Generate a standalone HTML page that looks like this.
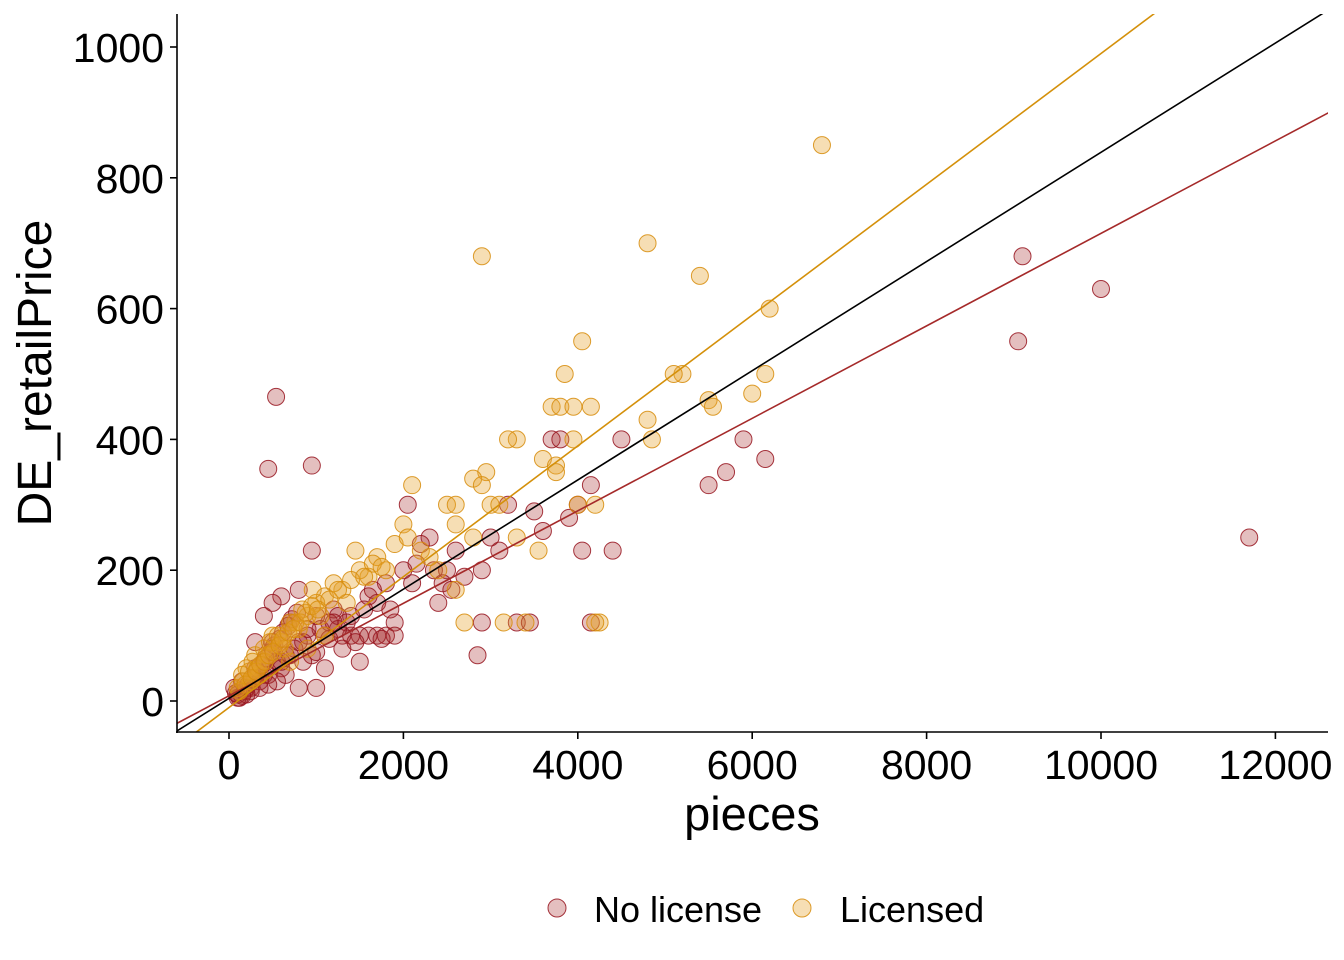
<!DOCTYPE html>
<html><head><meta charset="utf-8"><style>
body{margin:0;background:#fff}
svg{display:block;font-family:"Liberation Sans",Arial,sans-serif}
</style></head><body>
<svg id="chart" width="1344" height="960">
<g id="marks"></g>
<g id="axes"></g>
<text x="752" y="830" font-size="47" text-anchor="middle">pieces</text>
<text transform="translate(51,373) rotate(-90)" font-size="48" text-anchor="middle">DE_retailPrice</text>
<g>
<circle cx="557" cy="908" r="9" fill="rgba(165,42,42,0.3)" stroke="rgba(150,20,30,0.85)"/>
<text x="594" y="922" font-size="36">No license</text>
<circle cx="802" cy="908" r="9" fill="rgba(230,160,40,0.35)" stroke="rgba(215,140,10,0.85)"/>
<text x="840" y="922" font-size="36">Licensed</text>
</g>
</svg>
<script>
const redX=[540,450,950,950,2050,3700,3800,4150,4000,3900,3600,3500,4050,4400,4500,5900,5700,5500,6150,9050,9100,10000,11700,2900,2850,3300,3450,4150,3100,3200,2900,2700,2500,2300,2200,1800,1700,1600,1500,1400,1300,1500,1300,1000,800,1100,1200,1000,800,600,400,300,500,700,900,600,400,200,100,150,300,500,1700,1900,2100,2400,2600,3000,2000,1600,1400,1800,250,350,450,550,650,750,850,1050,1150,1250,120,180,220,280,320,380,420,480,520,580,620,680,720,780,1900,1750,1550,1350,1450,1250,1150,950,850,650,550,450,350,250,200,150,100,80,60,300,400,500,600,700,800,900,1000,1100,1200,1650,1850,2150,2350,2450,2550];
const redY=[465,355,360,230,300,400,400,330,300,280,260,290,230,230,400,400,350,330,370,550,680,630,250,120,70,120,120,120,230,300,200,190,200,250,240,100,100,100,100,100,100,60,80,20,20,50,140,130,170,160,130,90,150,120,100,50,40,20,10,30,50,90,150,120,180,150,230,250,200,160,130,180,20,30,40,60,70,80,90,110,120,130,5,15,25,35,45,55,65,75,85,95,105,115,125,135,100,95,140,120,90,110,95,70,60,40,30,25,20,15,10,8,5,12,20,35,60,80,60,70,90,110,75,100,120,170,140,210,200,180,170];
const orgX=[6800,4800,5400,2900,6200,4050,5200,5100,3850,6150,3700,3800,3950,4150,5500,5550,6000,4800,4850,3950,3300,3200,3600,3750,3750,2950,2800,2900,2100,3000,3100,2500,2600,4000,4200,2000,2800,3300,3550,1450,1700,1900,2600,2700,3150,3400,4250,4200,2600,2400,1600,1300,1100,900,700,500,300,200,100,400,600,800,1000,1200,1500,1800,2200,350,250,150,700,900,1100,160,230,270,330,430,470,560,640,760,840,960,1050,1350,1650,2300,120,190,260,310,360,410,460,510,580,620,680,740,820,880,950,1020,1150,1250,1400,1550,1750,2050];
const orgY=[850,700,650,680,600,550,500,500,500,500,450,450,450,450,460,450,470,430,400,400,400,400,370,360,350,350,340,330,330,300,300,300,300,300,300,270,250,250,230,230,220,240,270,120,120,120,120,120,170,200,190,170,160,130,120,100,70,50,20,80,90,110,150,180,200,200,230,40,30,40,60,80,100,30,45,60,50,70,90,100,80,120,140,170,130,150,210,220,15,25,35,45,55,60,70,75,85,95,105,110,120,135,145,140,155,170,185,190,205,250];
const xTicks=[0,2000,4000,6000,8000,10000,12000];
const yTicks=[0,200,400,600,800,1000];
const fitNone=[8,0.0707], fitLic=[-10,0.1], fitAll=[4,0.0835];
const X=v=>229+v*0.0872, Y=v=>701-v*0.654;
const NS='http://www.w3.org/2000/svg';
const marks=document.getElementById('marks'), axes=document.getElementById('axes');
function mk(tag,attrs,parent){const e=document.createElementNS(NS,tag);for(const k in attrs)e.setAttribute(k,attrs[k]);parent.appendChild(e);return e;}
const clip=mk('clipPath',{id:'pc'},marks);mk('rect',{x:177,y:14,width:1151,height:718},clip);
const pg=mk('g',{'clip-path':'url(#pc)'},marks);
for(let i=0;i<redX.length;i++){const c=mk('circle',{cx:X(redX[i]),cy:Y(redY[i]),r:8.5,fill:'rgba(165,42,42,0.3)',stroke:'rgba(150,20,30,0.85)','stroke-width':1},pg);

}
for(let i=0;i<orgX.length;i++){const c=mk('circle',{cx:X(orgX[i]),cy:Y(orgY[i]),r:8.5,fill:'rgba(230,160,40,0.35)',stroke:'rgba(215,140,10,0.85)','stroke-width':1},pg);

}
function fit(f,col,name){const x0=-700,x1=13000;const l=mk('line',{x1:X(x0),y1:Y(f[0]+f[1]*x0),x2:X(x1),y2:Y(f[0]+f[1]*x1),stroke:col,'stroke-width':1.6},pg);

}
fit(fitNone,'#A52A2A','fit-line-no-license');
fit(fitLic,'#D4900A','fit-line-licensed');
fit(fitAll,'#000','fit-line-overall');
mk('line',{x1:177,y1:14,x2:177,y2:733,stroke:'#000','stroke-width':1.6},axes);
mk('line',{x1:176,y1:732,x2:1328,y2:732,stroke:'#000','stroke-width':1.6},axes);
xTicks.forEach(v=>{mk('line',{x1:X(v),y1:732,x2:X(v),y2:739,stroke:'#000','stroke-width':1.6},axes);
const t=mk('text',{x:X(v),y:779,'font-size':41,'text-anchor':'middle',fill:'#000'},axes);t.textContent=v;

});
yTicks.forEach(v=>{mk('line',{x1:170,y1:Y(v),x2:177,y2:Y(v),stroke:'#000','stroke-width':1.6},axes);
const t=mk('text',{x:164,y:Y(v)+15,'font-size':41,'text-anchor':'end',fill:'#000'},axes);t.textContent=v;

});
</script>
</body></html>
